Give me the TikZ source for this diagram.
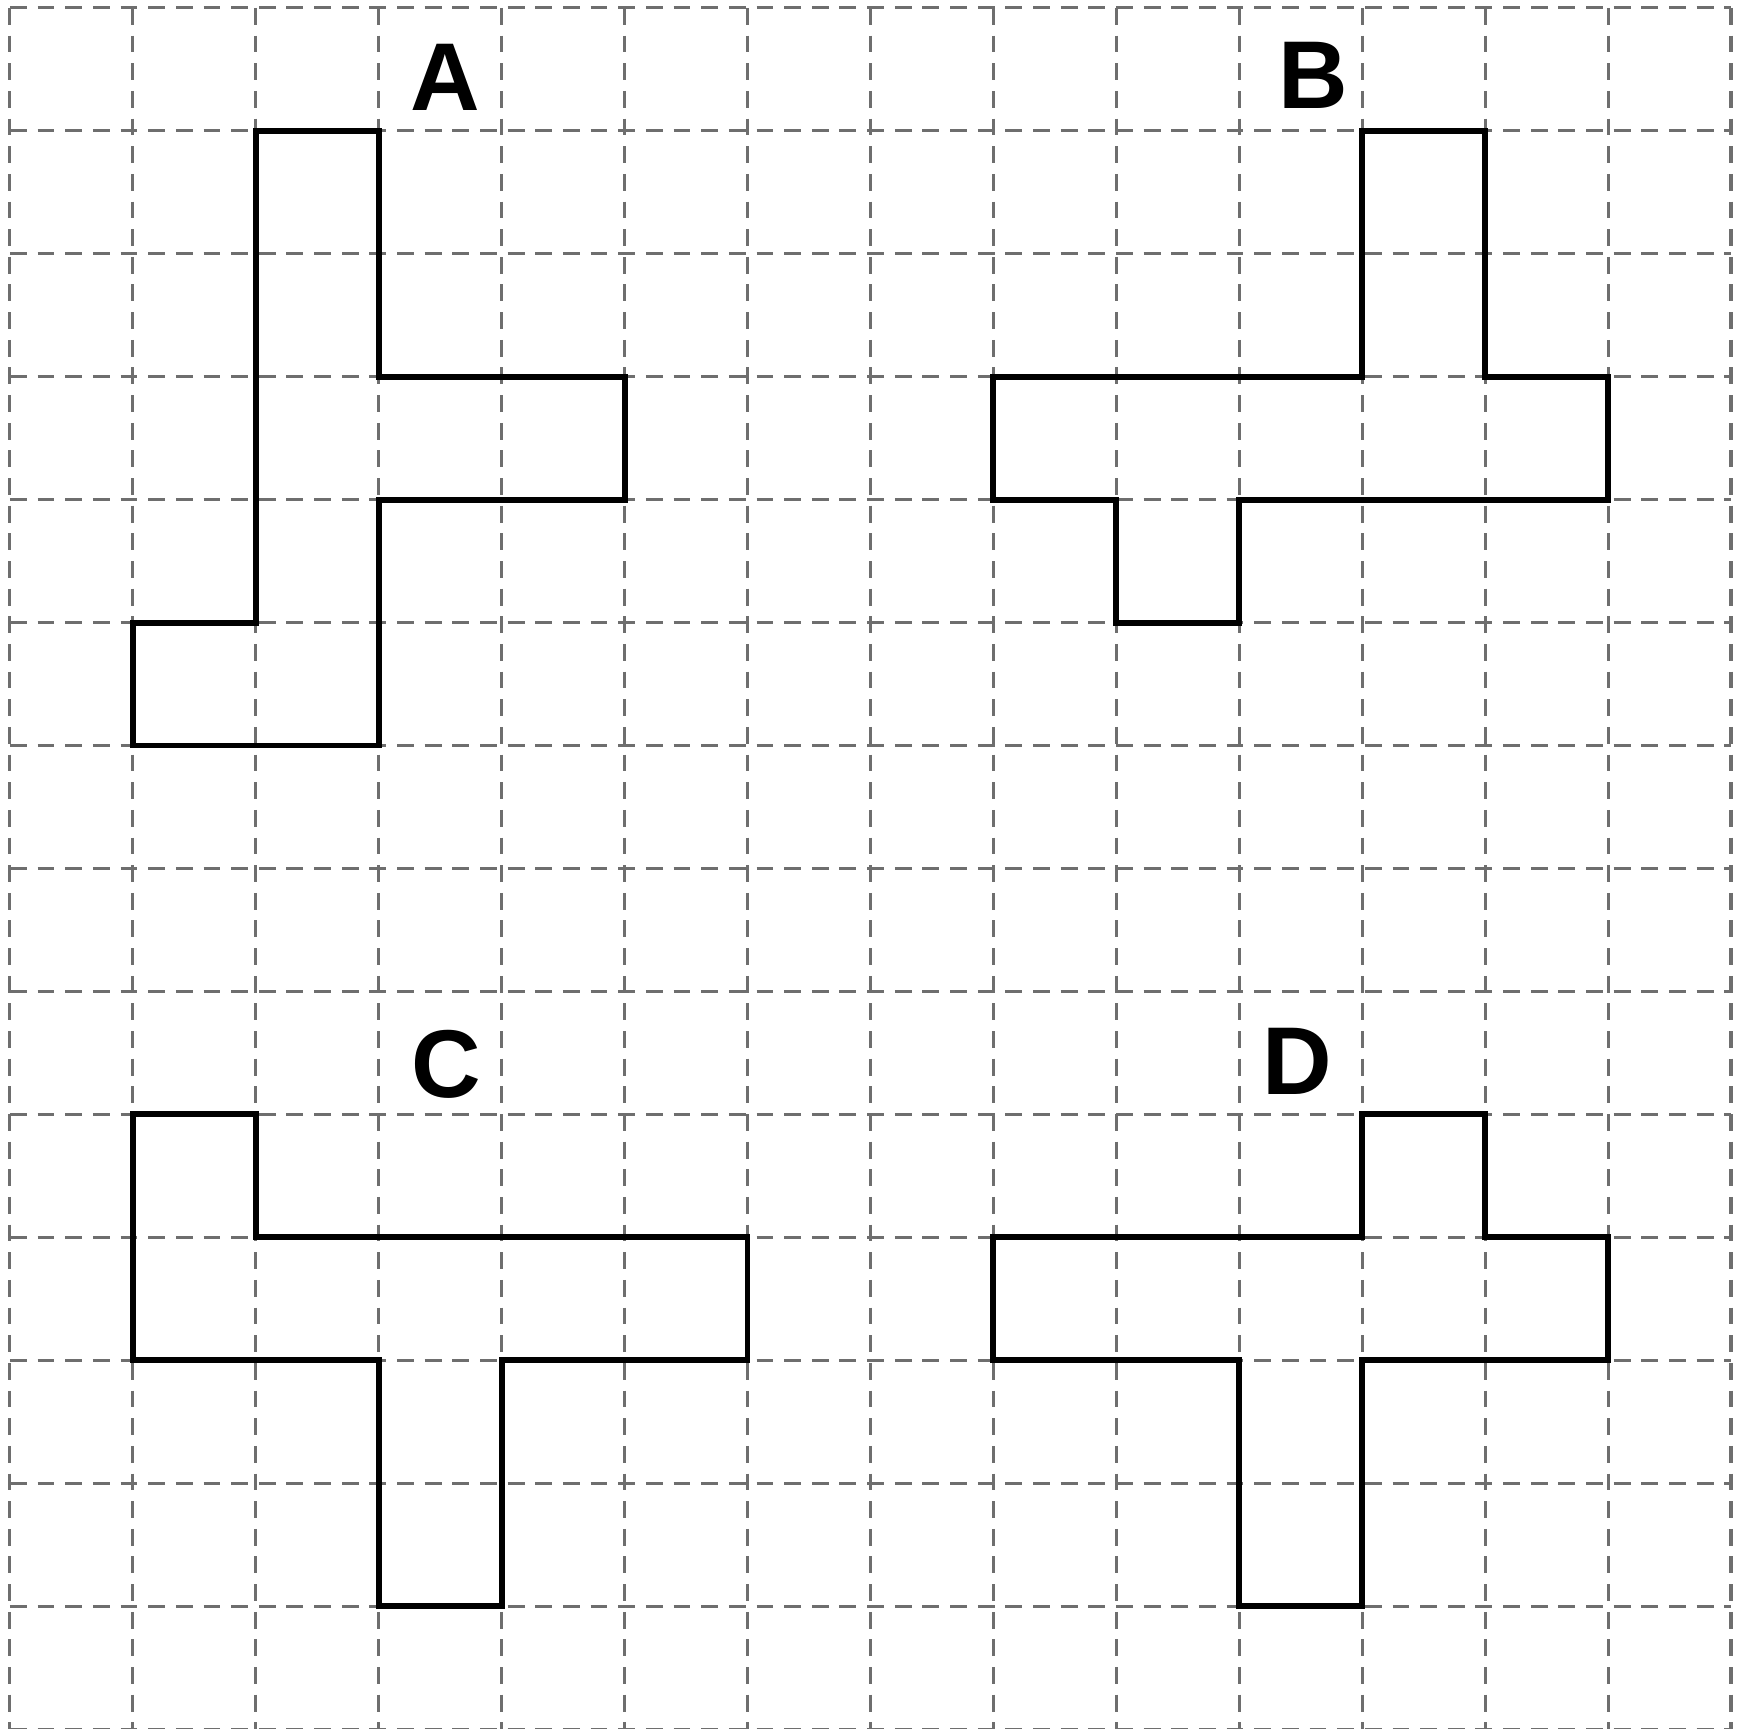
\documentclass[tikz,border=0pt]{standalone}
\usepackage{fontspec}
\setmainfont{Liberation Sans}
\begin{document}
\begin{tikzpicture}[x=1cm,y=-1cm,
  gridline/.style={draw=gray!110!black, color={rgb,255:red,110;green,110;blue,110}, line width=0.7pt, dash pattern=on 3.9pt off 2.5pt},
  shapeline/.style={draw=black, line width=1.35pt, line join=miter},
  lbl/.style={font=\fontsize{22.3}{26}\selectfont\bfseries, inner sep=0pt, anchor=center}]
\useasboundingbox (-0.081,-0.065) rectangle (14.106,14.0);
% grid
\foreach \i in {0,...,14} {
  \draw[gridline] (\i,0) -- (\i,14);
  \draw[gridline] (0,\i) -- (14,\i);
}
% shape A
\draw[shapeline] (2,1) -- (3,1) -- (3,3) -- (5,3) -- (5,4) -- (3,4) -- (3,6) -- (1,6) -- (1,5) -- (2,5) -- cycle;
% shape B
\draw[shapeline] (11,1) -- (12,1) -- (12,3) -- (13,3) -- (13,4) -- (10,4) -- (10,5) -- (9,5) -- (9,4) -- (8,4) -- (8,3) -- (11,3) -- cycle;
% shape C
\draw[shapeline] (1,9) -- (2,9) -- (2,10) -- (6,10) -- (6,11) -- (4,11) -- (4,13) -- (3,13) -- (3,11) -- (1,11) -- cycle;
% shape D
\draw[shapeline] (11,9) -- (12,9) -- (12,10) -- (13,10) -- (13,11) -- (11,11) -- (11,13) -- (10,13) -- (10,11) -- (8,11) -- (8,10) -- (11,10) -- cycle;
% labels
\node[lbl] (la) at (3.54,0.566) {A};
\node[lbl] (lb) at (10.6,0.545) {B};
\node[lbl] (lc) at (3.55,8.59) {C};
\node[lbl] (ld) at (10.47,8.57) {D};
\end{tikzpicture}
\end{document}
